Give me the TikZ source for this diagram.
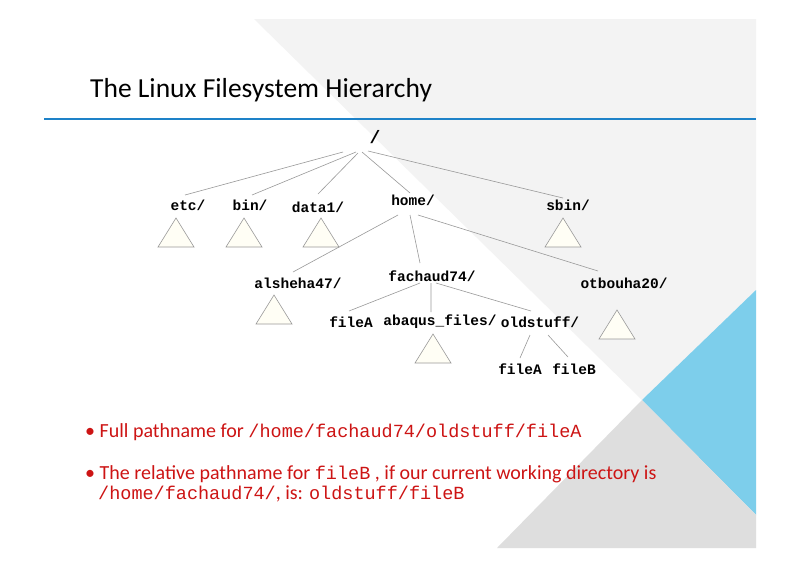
\documentclass[tikz,border=0pt]{standalone}
\usepackage{fontspec}
\setmainfont{Carlito}
\setmonofont{Liberation Mono}
\begin{document}
\begin{tikzpicture}[x=1pt,y=-1pt,
  lbl/.style={font=\ttfamily\bfseries\fontsize{14.5}{16}\selectfont,inner sep=1pt},
  edge/.style={draw=gray!80,line width=0.6pt},
  tri/.style={draw=gray!80,fill=yellow!4,line width=0.6pt},
  red text/.style={text=txtred,font=\fontsize{20}{24}\selectfont,anchor=west,inner sep=0pt}]
\definecolor{lgrey}{RGB}{243,243,243}
\definecolor{dgrey}{RGB}{222,222,222}
\definecolor{sky}{RGB}{125,206,235}
\definecolor{lineblue}{RGB}{30,130,200}
\definecolor{txtred}{RGB}{205,20,20}
\useasboundingbox (0,0) rectangle (800,566);
\fill[white] (0,0) rectangle (800,566);
\fill[lgrey] (254,19) -- (756,19) -- (756,290) -- (642,400) -- cycle;
\fill[sky] (756,290) -- (756,515) -- (642,400) -- cycle;
\fill[dgrey] (642,400) -- (756,515) -- (756,548) -- (497,548) -- cycle;
\node[anchor=west,font=\fontsize{27.5}{32}\selectfont,inner sep=0pt] (title) at (90,90) {The Linux Filesystem Hierarchy};
\draw[lineblue,line width=2.5pt] (44,119) -- (756,119);
% tree labels
\node[lbl,font=\ttfamily\bfseries\fontsize{18}{20}\selectfont] (root) at (375,137) {/};
\node[lbl] (etc) at (188,205) {etc/};
\node[lbl] (bin) at (250,205) {bin/};
\node[lbl] (data) at (318,207) {data1/};
\node[lbl] (home) at (413,200) {home/};
\node[lbl] (sbin) at (568,205) {sbin/};
\node[lbl] (als) at (298,283) {alsheha47/};
\node[lbl] (fac) at (432,276) {fachaud74/};
\node[lbl] (otb) at (624,283) {otbouha20/};
\node[lbl] (fa1) at (351,322) {fileA};
\node[lbl] (aba) at (440,322) {abaqus\_files/};
\node[lbl] (old) at (540,322) {oldstuff/};
\node[lbl] (fa2) at (520,369) {fileA};
\node[lbl] (fb) at (574,369) {fileB};
% triangles
\foreach \n/\cx/\ty in {tetc/176/218,tbin/244/218,tdata/321/218,tsbin/563/218,tals/274/295,totb/617/310,taba/433/334}{
  \draw[tri] (\cx,\ty) -- (\cx+18,\ty+29) -- (\cx-18,\ty+29) -- cycle;
}
% connector endpoints
\coordinate (r1) at (343,152); \coordinate (e1) at (185,195);
\coordinate (r2) at (356,152); \coordinate (b1) at (252,195);
\coordinate (r3) at (358,153); \coordinate (d1) at (318,194);
\coordinate (r4) at (362,152); \coordinate (h1) at (410,193);
\coordinate (r5) at (368,151); \coordinate (s1) at (563,198);
\coordinate (h2) at (398,215); \coordinate (a1) at (293,272);
\coordinate (h3) at (410,215); \coordinate (f1) at (420,263);
\coordinate (h4) at (418,215); \coordinate (o1) at (598,271);
\coordinate (f2) at (420,283); \coordinate (x1) at (349,311);
\coordinate (f3) at (431,283); \coordinate (x2) at (431,312);
\coordinate (f4) at (436,283); \coordinate (x3) at (531,311);
\coordinate (o2) at (530,335); \coordinate (y1) at (520,358);
\coordinate (o3) at (548,335); \coordinate (y2) at (568,357);
\draw[edge] (r1)--(e1) (r2)--(b1) (r3)--(d1) (r4)--(h1) (r5)--(s1)
  (h2)--(a1) (h3)--(f1) (h4)--(o1)
  (f2)--(x1) (f3)--(x2) (f4)--(x3)
  (o2)--(y1) (o3)--(y2);
% bullets
\node[red text] (b1t) at (85,432) {\textbullet\ Full pathname for {\ttfamily\fontsize{18.5}{20}\selectfont /home/fachaud74/oldstuff/fileA}};
\node[red text] (b2t) at (85,474) {\textbullet\ The relative pathname for {\ttfamily\fontsize{18.5}{20}\selectfont fileB} , if our current working directory is};
\node[red text] (b3t) at (98,494) {{\ttfamily\fontsize{18.5}{20}\selectfont /home/fachaud74/}, is: {\ttfamily\fontsize{18.5}{20}\selectfont oldstuff/fileB}};
\end{tikzpicture}
\end{document}
